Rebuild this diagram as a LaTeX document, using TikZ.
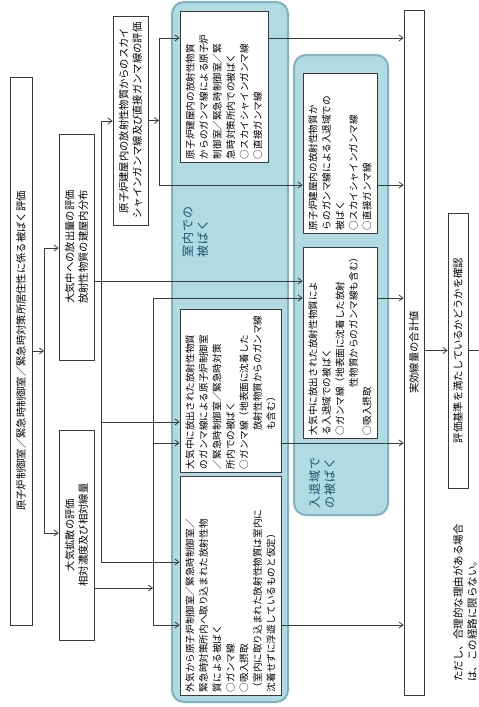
\documentclass[tikz,border=0pt]{standalone}
\usepackage{fontspec}
\newfontfamily\jp{Noto Sans CJK JP}
\newfontfamily\jplbl[LetterSpace=8]{Noto Sans CJK JP}
\usepackage{xcolor}
\usepackage{tikz}
\usetikzlibrary{arrows.meta}
\definecolor{roomfill}{RGB}{176,219,227}
\definecolor{roomedge}{RGB}{128,178,192}
\definecolor{roomtext}{RGB}{30,80,108}
\definecolor{linegray}{RGB}{58,58,58}
\tikzstyle{inbox} = [
    rectangle, rotate=90,
    draw=linegray, fill=white, line width=0.8pt,
    text centered, align=center, inner sep=3pt,
    font=\jp\fontsize{10.3}{13.5}\selectfont]
\tikzstyle{dosebox} = [
    rectangle, rotate=90,
    inner xsep=3pt, inner ysep=2pt,
    draw=linegray, fill=white, line width=0.8pt,
    align=left,
    font=\jp\fontsize{9.6}{13.5}\selectfont]
\tikzstyle{region} = [
    rectangle, rounded corners=12pt,
    draw=roomedge, fill=roomfill, line width=2pt]
\tikzstyle{regionlabel} = [
    rotate=90, align=left, text=roomtext,
    font=\jplbl\fontsize{12}{15}\selectfont]
\tikzstyle{arrow} = [line width=0.8pt, draw=linegray,
    -{Straight Barb[length=4pt,width=6pt]}]
\tikzstyle{bus} = [line width=0.8pt, draw=linegray]

\begin{document}
\begin{tikzpicture}[x=1pt, y=-1pt]
  \useasboundingbox (0,0) rectangle (479,707);

  \node (room) [region, minimum width=116pt, minimum height=700pt] at (230,352) {};
  \node (exit) [region, minimum width=94pt, minimum height=460pt] at (341,285) {};
  \node (roomlbl) [regionlabel] at (195,232) {室内での\\被ばく};
  \node (exitlbl) [regionlabel] at (322,483) {入退域で\\の被ばく};

  \node (eval) [inbox, minimum width=548pt, minimum height=22pt] at (21,351)
      {原子炉制御室／緊急時制御室／緊急時対策所居住性に係る被ばく評価};
  \node (release) [inbox, minimum width=226pt, minimum height=35pt] at (76.5,247)
      {大気中への放出量の評価\\放射性物質の建屋内分布};
  \node (disp) [inbox, minimum width=210pt, minimum height=35pt] at (76.5,535)
      {大気拡散の評価\\相対濃度及び相対線量};
  \node (shine) [inbox, minimum width=209pt, minimum height=35pt] at (130.5,120.5)
      {原子炉建屋内の放射性物質からのスカイ\\シャインガンマ線及び直接ガンマ線の評価};

  \node (roomsky) [dosebox, minimum width=151pt, minimum height=88pt, text width=145pt] at (224,86.5)
      {原子炉建屋内の放射性物質\\からのガンマ線による原子炉\\制御室／緊急時制御室／緊\\急時対策所内での被ばく\\○スカイシャインガンマ線\\○直接ガンマ線};
  \node (roomair) [dosebox, minimum width=163pt, minimum height=101pt, text width=157pt] at (230.5,390.5)
      {大気中に放出された放射性物質\\のガンマ線による原子炉制御室\\／緊急時制御室／緊急時対策\\所内での被ばく\\○ガンマ線（地表面に沈着した\\\hspace*{4em}放射性物質からのガンマ線\\\hspace*{4em}も含む）};
  \node (intake) [dosebox, minimum width=219pt, minimum height=101pt, text width=213pt] at (230.5,585.5)
      {外気から原子炉制御室／緊急時制御室／\\緊急時対策所内へ取り込まれた放射性物\\質による被ばく\\○ガンマ線\\○吸入摂取\\（室内に取り込まれた放射性物質は室内に\\沈着せずに浮遊しているものと仮定）};
  \node (exitsky) [dosebox, minimum width=160pt, minimum height=74pt, text width=154pt] at (340,153)
      {原子炉建屋内の放射性物質か\\らのガンマ線による入退域での\\被ばく\\○スカイシャインガンマ線\\○直接ガンマ線};
  \node (exitair) [dosebox, minimum width=191pt, minimum height=74pt, text width=185pt] at (340,342.5)
      {大気中に放出された放射性物質によ\\る入退域での被ばく\\○ガンマ線（地表面に沈着した放射\\\hspace*{5em}性物質からのガンマ線も含む）\\○吸入摂取};

  \node (total) [inbox, minimum width=685pt, minimum height=20pt] at (414,352.5)
      {実効線量の合計値};
  \node (check) [inbox, minimum width=275pt, minimum height=20pt] at (458,350.5)
      {評価基準を満たしているかどうかを確認};
  \node (note) [rotate=90, align=left, font=\jp\fontsize{10.5}{14}\selectfont] at (465,603)
      {ただし、合理的な理由がある場合\\は、この経路に限らない。};

  \coordinate (ja1) at (44,248);
  \coordinate (ja2) at (44,533);
  \coordinate (jb1) at (101,121);
  \coordinate (jb2) at (101,562);
  \coordinate (jb3) at (101,281);
  \coordinate (jb4) at (101,422);
  \coordinate (jc1) at (153,298);
  \coordinate (jc2) at (153,625);
  \coordinate (jc3) at (153,588);
  \coordinate (jc4) at (153,443);
  \coordinate (jd1) at (159,38);
  \coordinate (jd2) at (159,185);
  \coordinate (out) at (479,350.5);

  \draw [arrow] (eval.south) -- (eval.south -| ja1);
  \draw [bus] (ja1) -- (ja2);
  \draw [arrow] (ja1) -- (ja1 -| release.north);
  \draw [arrow] (ja2) -- (ja2 -| disp.north);

  \draw [bus] (jb1) -- (jb2);
  \draw [arrow] (jb1) -- (jb1 -| shine.north);
  \draw [arrow] (release.south |- jb3) -- (jb3 -| exitair.north);
  \draw [arrow] (jb4) -- (jb4 -| roomair.north);
  \draw [arrow] (jb2) -- (jb2 -| intake.north);

  \draw [arrow] (disp.south |- jc3) -- (jc3);
  \draw [bus] (jc1) -- (jc2);
  \draw [arrow] (jc1) -- (jc1 -| exitair.north);
  \draw [arrow] (jc4) -- (jc4 -| roomair.north);
  \draw [arrow] (jc2) -- (jc2 -| intake.north);

  \draw [arrow] (shine.south) -- (shine.south -| jd1);
  \draw [bus] (jd1) -- (jd2);
  \draw [arrow] (jd1) -- (jd1 -| roomsky.north);
  \draw [arrow] (jd2) -- (jd2 -| exitsky.north);

  \draw [arrow] (roomsky.south |- jd1) -- (jd1 -| total.north);
  \draw [arrow] (exitsky.south |- jd2) -- (jd2 -| total.north);
  \draw [arrow] (exitair.south |- jc1) -- (jc1 -| total.north);
  \draw [arrow] (roomair.south |- jc4) -- (jc4 -| total.north);
  \draw [arrow] (intake.south |- jc2) -- (jc2 -| total.north);

  \draw [arrow] (total.south |- check.north) -- (check.north);
  \draw [bus] (check.south) -- (out);

\end{tikzpicture}
\end{document}
